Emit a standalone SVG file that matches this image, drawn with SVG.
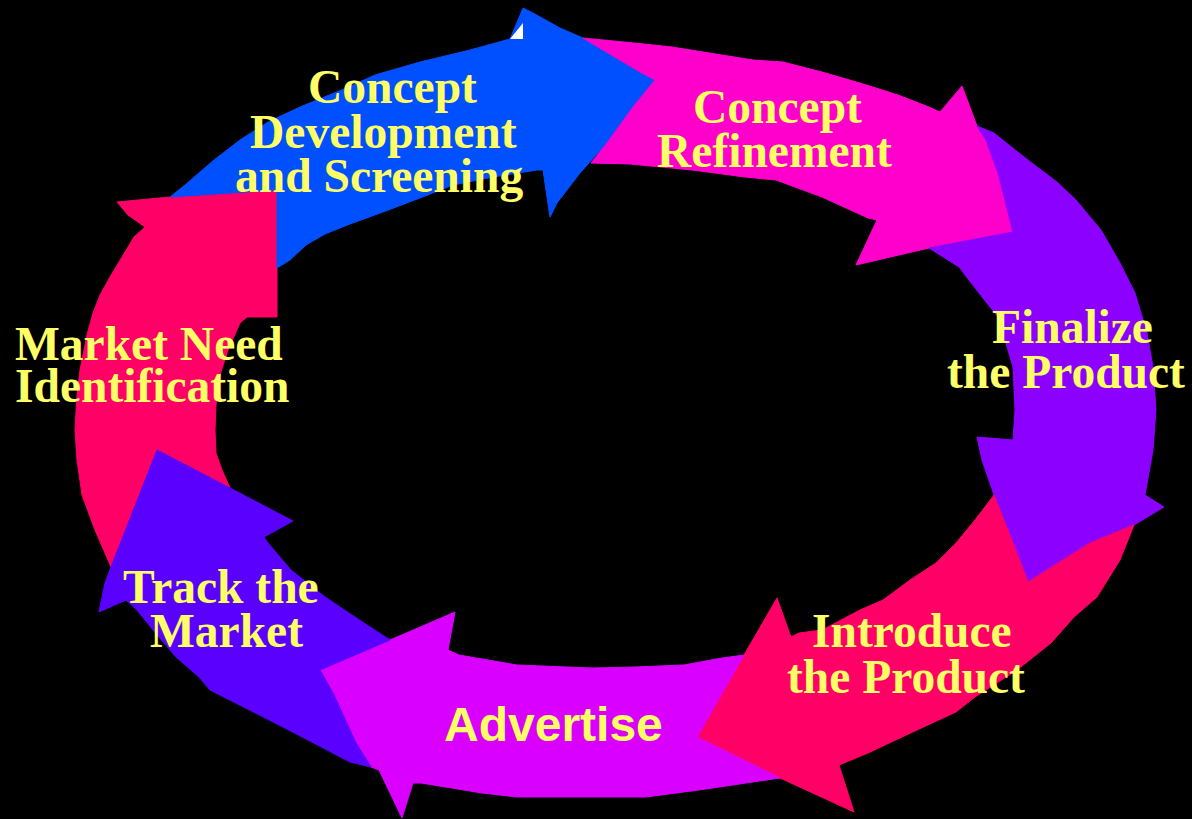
<svg xmlns="http://www.w3.org/2000/svg" width="1192" height="819" viewBox="0 0 1192 819">
  <style>
    .band { stroke-width: 1; stroke-linejoin: round; }
    .lbl { fill: #ffff66; font-family: "Liberation Serif", "Times New Roman", serif; font-weight: bold; font-size: 47.5px; }
    .lbl-sans { fill: #ffff66; font-family: "Liberation Sans", Arial, sans-serif; font-weight: bold; font-size: 48px; }
  </style>
  <rect x="0" y="0" width="1192" height="819" fill="#000000"/>

  <!-- Market need identification -->
  <g id="step-market-need">
    <polygon class="band" fill="#ff0066" stroke="#ff0066" points="117,202 170,197 277,190 277,317 247,317 240,323 228,350 220,375 216,405 215,430 216,453 222,470 230,488 157,450 111,567 95,530 82,495 77,460 75,430 77,395 80,370 87,335 93,313 100,295 110,277 122,257 134,237 145,227 128,215"/>
    <text class="lbl" x="15" y="360">Market Need</text>
    <text class="lbl" x="15" y="402">Identification</text>
  </g>

  <!-- Concept development and screening -->
  <g id="step-concept-development">
    <polygon class="band" fill="#0050ff" stroke="#0050ff" points="170,197 277,190 277,268 290,260 306,245 325,234 350,224 383,212 420,198 453,185 493,177 537,170 543,170 550,217 557,203 580,173 607,143 633,107 655,80 640,72 603,50 583,38 560,28 533,13 523,8 510,39 470,50 420,62 375,75 344,89 300,107 268,122 240,140 214,160 200,172 185,185"/>
    <polygon fill="#ffffff" points="510,39 523,23 523,39"/>
    <text class="lbl" x="308" y="103">Concept</text>
    <text class="lbl" x="250" y="148">Development</text>
    <text class="lbl" x="235" y="192">and Screening</text>
  </g>

  <!-- Concept refinement -->
  <g id="step-concept-refinement">
    <polygon class="band" fill="#ff00cc" stroke="#ff00cc" points="583,38 634,43 672,47 753,60 783,62 822,72 860,83 898,95 929,107 940,112 962,86 977,126 986,140 998,173 1013,232 929,248 856,265 877,220 868,218 822,197 776,180 745,177 692,170 630,164 591,163 607,143 633,107 655,80 640,72 603,50"/>
    <text class="lbl" x="693" y="123">Concept</text>
    <text class="lbl" x="657" y="167">Refinement</text>
  </g>

  <!-- Finalize the product -->
  <g id="step-finalize">
    <polygon class="band" fill="#8c00ff" stroke="#8c00ff" points="977,126 994,133 1024,157 1057,182 1076,200 1101,230 1120,263 1135,293 1147,333 1153,367 1156,410 1153,450 1145,495 1164,507 1134,525 1090,543 1028,582 1013,543 994,495 982,460 977,437 1013,440 1015,410 1013,367 998,317 979,293 959,267 929,248 1013,232 998,173 986,140"/>
    <text class="lbl" x="992" y="343">Finalize</text>
    <text class="lbl" x="947" y="388">the Product</text>
  </g>

  <!-- Introduce the product -->
  <g id="step-introduce">
    <polygon class="band" fill="#ff0066" stroke="#ff0066" points="1134,525 1120,560 1097,597 1074,617 1051,643 1017,670 975,697 956,712 917,730 868,753 839,765 854,812 780,778 697,737 744,655 777,598 791,637 799,633 822,630 860,610 883,600 910,580 936,563 956,543 975,520 994,495 1013,543 1028,582 1090,543"/>
    <text class="lbl" x="812" y="647">Introduce</text>
    <text class="lbl" x="787" y="693">the Product</text>
  </g>

  <!-- Advertise -->
  <g id="step-advertise">
    <polygon class="band" fill="#d900ff" stroke="#d900ff" points="744,655 722,658 684,665 634,667 592,668 517,665 459,655 448,650 455,612 390,640 320,670 333,693 356,743 371,767 379,770 402,818 413,783 421,783 482,793 517,797 600,797 646,797 699,790 780,778 697,737"/>
    <text class="lbl-sans" x="444" y="741">Advertise</text>
  </g>

  <!-- Track the market -->
  <g id="step-track-market">
    <polygon class="band" fill="#5a00ff" stroke="#5a00ff" points="157,450 230,488 293,521 264,537 268,543 291,570 325,597 364,623 390,640 320,670 333,693 356,743 371,767 350,762 283,727 210,690 199,677 176,657 153,630 137,610 126,600 99,612 105,583 111,567"/>
    <text class="lbl" x="123" y="603">Track the</text>
    <text class="lbl" x="150" y="647">Market</text>
  </g>
</svg>
